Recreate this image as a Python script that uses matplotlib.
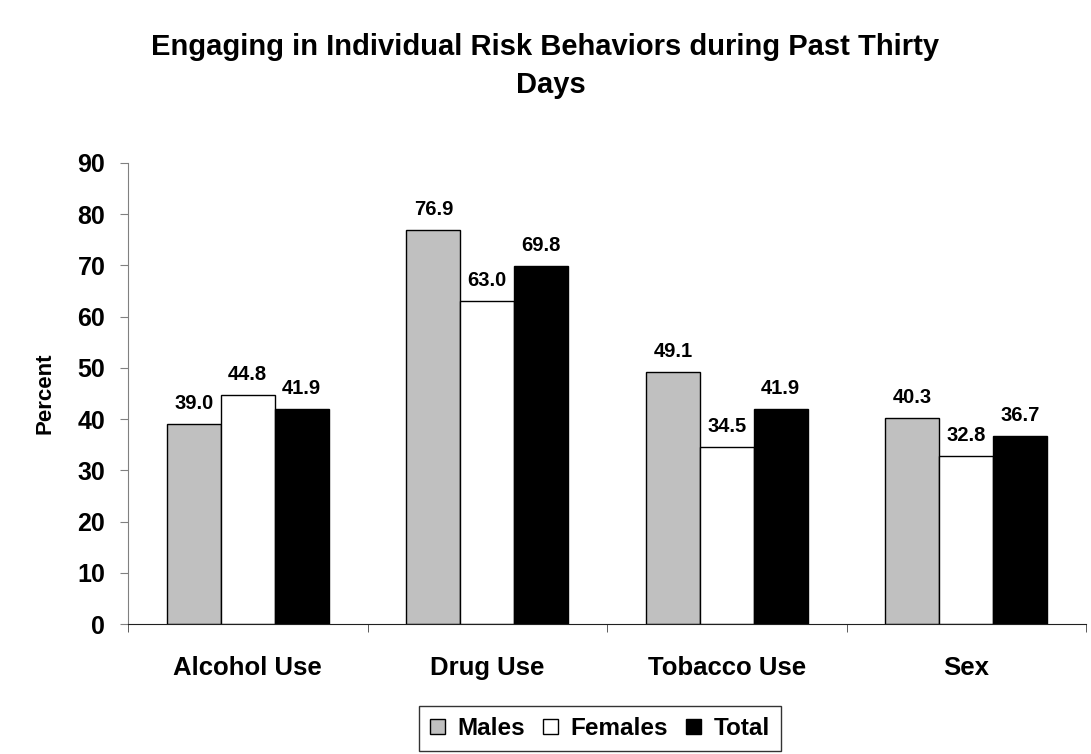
import numpy as np
import matplotlib
matplotlib.use("Agg")
import matplotlib.pyplot as plt

plt.rcParams['font.family'] = ['Liberation Sans', 'DejaVu Sans']
plt.rcParams['font.weight'] = 'bold'

# data
categories = ['Alcohol Use', 'Drug Use', 'Tobacco Use', 'Sex']
males = [39.0, 76.9, 49.1, 40.3]
females = [44.8, 63.0, 34.5, 32.8]
total = [41.9, 69.8, 41.9, 36.7]
series_names = ['Males', 'Females', 'Total']
yticks = list(range(0, 100, 10))

W, H = 1091, 754
fig = plt.figure(figsize=(W / 100, H / 100), dpi=100)
# plot area in pixels: x 128..1086, y 163..624
ax = fig.add_axes([128 / W, 1 - 624 / H, (1086 - 128) / W, (624 - 163) / H])

x = np.arange(len(categories))
w = 0.225
colors = ['#C0C0C0', '#FFFFFF', '#000000']
for i, (vals, col, name) in enumerate(zip([males, females, total], colors, series_names)):
    bars = ax.bar(x + (i - 1) * w, vals, width=w, color=col, edgecolor='black',
                  linewidth=1, label=name)
    for b, v in zip(bars, vals):
        ax.annotate(f'{v:.1f}', (b.get_x() + b.get_width() / 2, v), xytext=(0, 10.8),
                    textcoords='offset points', ha='center', va='baseline',
                    fontsize=14.5, fontweight='bold')

ax.set_xlim(-0.5, len(categories) - 0.5)
ax.set_ylim(0, 90)
ax.set_yticks(yticks)
ax.set_yticklabels([str(t) for t in yticks], fontsize=18, fontweight='bold')
ax.set_xticks(x)
ax.set_xticklabels(categories, fontsize=18.5, fontweight='bold')
ax.set_xticks(np.arange(-0.5, len(categories), 1), minor=True)
ax.tick_params(axis='x', which='major', length=0, pad=23)
ax.tick_params(axis='x', which='minor', length=6, direction='out', color='#404040')
ax.tick_params(axis='y', length=5.8, direction='out', color='#808080', pad=10.5)
ax.spines['top'].set_visible(False)
ax.spines['right'].set_visible(False)
ax.spines['left'].set_color('#808080')
ax.spines['bottom'].set_color('#202020')
ax.set_ylabel('Percent', fontsize=16, fontweight='bold')
ax.yaxis.set_label_coords(-(128 - 45) / (1086 - 128), 0.5)
ax.yaxis.label.set_va('center')

fig.text(0.5, 1 - 55 / H, 'Engaging in Individual Risk Behaviors during Past Thirty',
         ha='center', va='baseline', fontsize=21, fontweight='bold')
fig.text(0.505, 1 - 93 / H, 'Days', ha='center', va='baseline', fontsize=21, fontweight='bold')

leg = fig.legend(loc='center', bbox_to_anchor=(600 / W, 1 - 728.5 / H), ncol=3, frameon=True,
                 fancybox=False, prop={'size': 17.5, 'weight': 'bold'},
                 handlelength=0.62, handleheight=0.62, handletextpad=0.5,
                 columnspacing=0.75, borderpad=0.45, borderaxespad=0)
leg.get_frame().set_edgecolor('black')
leg.get_frame().set_linewidth(1)

fig.savefig('out.png', dpi=100)
